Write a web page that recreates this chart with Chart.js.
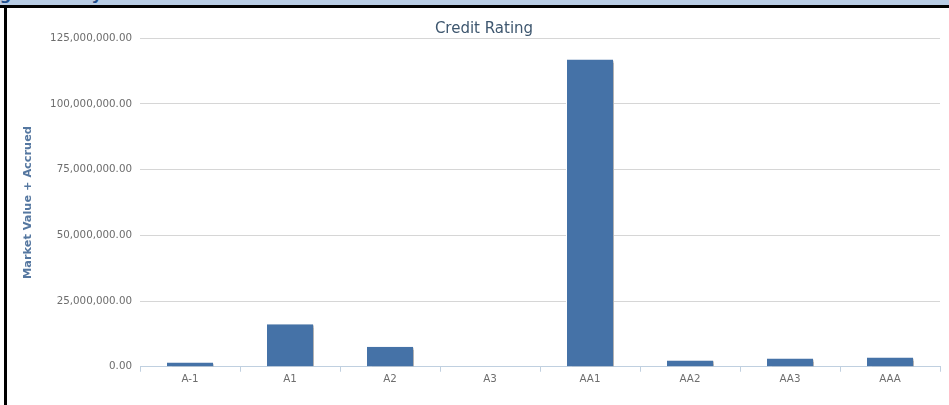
<!DOCTYPE html>
<html>
<head>
<meta charset="utf-8">
<script src="https://cdn.jsdelivr.net/npm/chart.js@4"></script>
<style>
  html, body { margin: 0; padding: 0; background: #ffffff; }
  body { width: 949px; height: 405px; position: relative; overflow: hidden; font-family: "DejaVu Sans", sans-serif; }
  #wrap { position: absolute; left: 0; top: 0; width: 949px; height: 405px; }
  #band { position: absolute; left: 0; top: 0; width: 949px; height: 5px; background: #b8cce4; overflow: hidden; z-index: 2; }
  #band span { position: absolute; left: -48px; top: -13.5px; font: bold 16px/16px "DejaVu Sans", sans-serif; color: #1f4e8c; white-space: nowrap; }
  #topline { position: absolute; left: 0; top: 5px; width: 949px; height: 3px; background: #000; z-index: 2; }
  #leftline { position: absolute; left: 4px; top: 5px; width: 3px; height: 400px; background: #000; z-index: 2; }
</style>
</head>
<body>
<div id="band"><span>Rating Summary</span></div>
<div id="topline"></div>
<div id="leftline"></div>
<div id="wrap"><canvas id="c" width="949" height="405"></canvas></div>
<script>
const categories = ["A-1", "A1", "A2", "A3", "AA1", "AA2", "AA3", "AAA"];
const marketValues = [1600000, 16200000, 7600000, 0, 116900000, 2400000, 3100000, 3500000];
const yTicks = [0, 25000000, 50000000, 75000000, 100000000, 125000000];
const chartTitle = "Credit Rating";
const yAxisTitle = "Market Value + Accrued";

const shadowPlugin = {
  id: 'barShadow',
  beforeDatasetDraw(chart) {
    const ctx = chart.ctx;
    ctx.save();
    ctx.shadowColor = 'rgba(0,0,0,0.3)';
    ctx.shadowOffsetX = 1.5;
    ctx.shadowOffsetY = 1;
    ctx.shadowBlur = 1.5;
  },
  afterDatasetDraw(chart) {
    chart.ctx.restore();
  }
};

new Chart(document.getElementById('c'), {
  type: 'bar',
  data: {
    labels: categories,
    datasets: [{
      data: marketValues,
      backgroundColor: '#4572A7',
      borderColor: '#ffffff',
      borderWidth: { top: 0, left: 1, right: 1, bottom: 0 },
      barPercentage: 0.96,
      categoryPercentage: 0.5
    }]
  },
  options: {
    responsive: false,
    animation: false,
    layout: { padding: { left: 19, right: 0, top: 0, bottom: 18.9 } },
    plugins: {
      legend: { display: false },
      tooltip: { enabled: false },
      title: {
        display: true,
        text: chartTitle,
        color: '#3E576F',
        font: { family: 'DejaVu Sans', size: 15, weight: 'normal', lineHeight: 1.2 },
        padding: { top: 19.8, bottom: 0.5 }
      }
    },
    scales: {
      x: {
        grid: { display: true, offset: true, drawOnChartArea: false, drawTicks: true, tickLength: 5, tickColor: '#c0d0e0', lineWidth: 1 },
        border: { display: true, color: '#c0d0e0', width: 1 },
        ticks: { color: '#6d6d6d', font: { family: 'DejaVu Sans', size: 10.3 }, padding: 1, maxRotation: 0, autoSkip: false }
      },
      y: {
        min: 0,
        max: 125000000,
        afterBuildTicks(scale) { scale.ticks = yTicks.map(v => ({ value: v })); },
        afterFit(scale) { scale.width = 121; },
        grid: { color: '#d6d6d6', lineWidth: 1, drawTicks: false },
        border: { display: false },
        ticks: {
          color: '#6d6d6d',
          font: { family: 'DejaVu Sans', size: 10.3 },
          padding: 8,
          callback: v => Number(v).toLocaleString('en-US', { minimumFractionDigits: 2, maximumFractionDigits: 2 })
        },
        title: {
          display: true,
          text: yAxisTitle,
          color: '#5577a0',
          font: { family: 'DejaVu Sans', size: 11.3, weight: 'bold', lineHeight: 1.2 },
          padding: { top: 2.2, bottom: 0 }
        }
      },
      yRight: {
        position: 'right',
        display: true,
        min: 0,
        max: 125000000,
        afterFit(scale) { scale.width = 9; },
        grid: { display: false, drawOnChartArea: false, drawTicks: false },
        border: { display: false },
        ticks: { display: false }
      }
    }
  },
  plugins: [shadowPlugin]
});
</script>
</body>
</html>
